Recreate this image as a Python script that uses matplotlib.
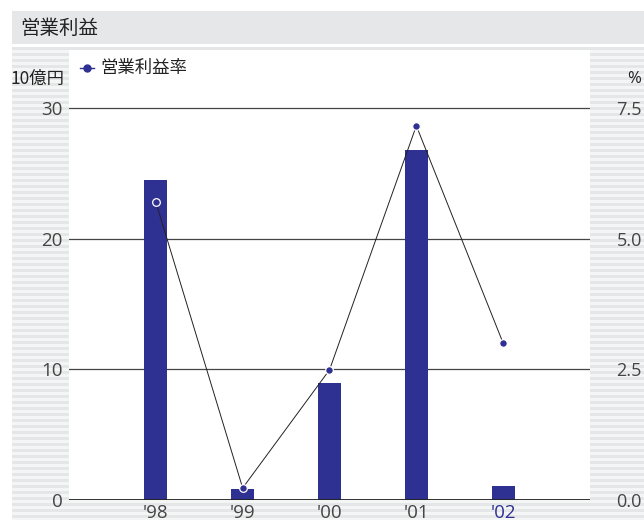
import matplotlib
matplotlib.use("Agg")
import matplotlib.pyplot as plt
from matplotlib.patches import Rectangle
import numpy as np

plt.rcParams['font.family'] = ['Open Sans', 'Noto Sans CJK JP', 'DejaVu Sans']

# data
years = ["'98", "'99", "'00", "'01", "'02"]
operating_income = [24.5, 0.85, 8.95, 26.8, 1.1]      # 10億円
operating_margin = [5.7, 0.23, 2.49, 7.16, 3.0]       # %
left_ticks = [0, 10, 20, 30]
right_ticks = [0.0, 2.5, 5.0, 7.5]

navy = "#2e3192"
W, H = 644, 520

fig = plt.figure(figsize=(W / 100, H / 100), dpi=100)

# striped background (in pixel units)
bg = fig.add_axes([0, 0, 1, 1])
bg.set_xlim(0, W)
bg.set_ylim(H, 0)
bg.axis("off")
bg.add_patch(Rectangle((12, 47), W - 12, H - 47, color="#f4f5f5", lw=0))
for y in np.arange(47, H, 6):
    bg.add_patch(Rectangle((12, y), W - 12, 3, color="#e5e6e7", lw=0))
# title bar
bg.add_patch(Rectangle((12, 11), W - 12, 33, color="#e6e7e8", lw=0))
bg.text(20, 28, "営業利益", fontsize=14, color="#222222", va="center", ha="left",
        family=['Noto Sans CJK JP'])

# main plot area
ax = fig.add_axes([69 / W, 20 / H, (590 - 69) / W, 450 / H])
ax.set_facecolor("white")
x = np.arange(len(years))
ax.bar(x, operating_income, width=0.265, color=navy, zorder=2)
ax.set_xlim(-1, 5)
ytop = 450 / (392 / 30)
ax.set_ylim(0, ytop)
ax.set_yticks(left_ticks)
ax.set_yticklabels([str(t) for t in left_ticks])
for t in left_ticks[1:]:
    ax.axhline(t, color="#444444", lw=0.9, zorder=1)
ax.axhline(0, color="#222222", lw=1.3, zorder=3)
for s in ax.spines.values():
    s.set_visible(False)
ax.tick_params(axis="y", length=0, pad=4.5, labelsize=13.5, labelcolor="#444444")
ax.tick_params(axis="x", length=0, pad=3, labelsize=13.5, labelcolor="#444444")
ax.set_xticks(x)
ax.set_xticklabels(years)
ax.get_xticklabels()[-1].set_color(navy)

ax2 = ax.twinx()
ax2.set_ylim(0, ytop / 4)
ax2.plot(x, operating_margin, color="#222222", lw=0.7, marker="o", markersize=5.5,
         markerfacecolor=navy, markeredgecolor="white", markeredgewidth=0.9, zorder=4)
ax2.set_yticks(right_ticks)
ax2.set_yticklabels([f"{t:.1f}" for t in right_ticks])
ax2.tick_params(axis="y", length=0, pad=19, labelsize=13, labelcolor="#444444")
for s in ax2.spines.values():
    s.set_visible(False)

# legend and unit labels on a transparent overlay
top = fig.add_axes([0, 0, 1, 1], zorder=10)
top.set_xlim(0, W)
top.set_ylim(H, 0)
top.axis("off")
top.patch.set_alpha(0)
top.plot([80, 94], [68, 68], color=navy, lw=1)
top.plot([87], [68], "o", color=navy, markersize=5)
top.text(100, 68, "営業利益率", fontsize=12.5, color="#222222", va="center", ha="left",
         family=['Noto Sans CJK JP'])
top.text(65, 79, "10億円", fontsize=12.5, color="#222222", va="center", ha="right",
         family=['Noto Sans CJK JP'])
top.text(634, 79, "%", fontsize=12, color="#222222", va="center", ha="center")

fig.savefig("out.png", dpi=100)
